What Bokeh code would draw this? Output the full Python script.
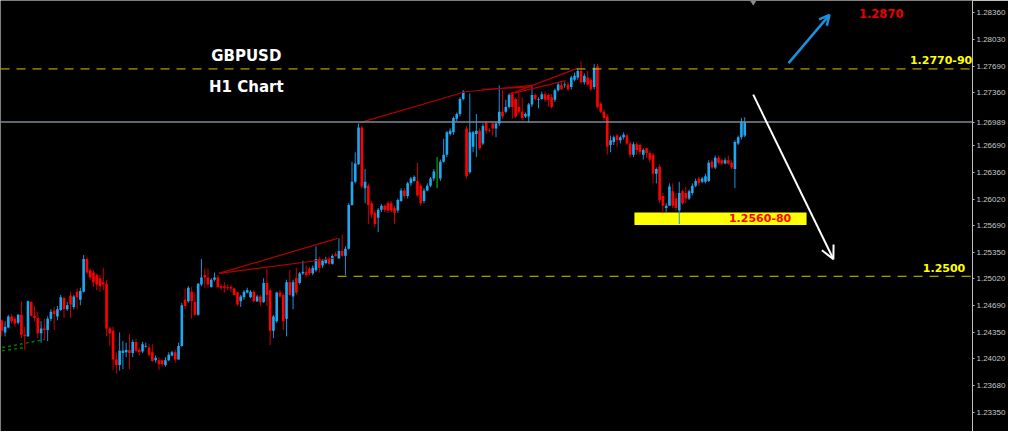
from bokeh.plotting import figure
from bokeh.models import (ColumnDataSource, Range1d, FixedTicker, PrintfTickFormatter,
                          Span, Label, Arrow, OpenHead)
from bokeh.embed import file_html
from bokeh.resources import INLINE

# ---------------- data (GBPUSD H1 candles, oldest -> newest) ----------------
opens = [
    1.2450, 1.2435, 1.2441, 1.2455, 1.2452, 1.2447, 1.2457, 1.2432, 1.2430, 1.2473,
    1.2456, 1.2453, 1.2434, 1.2440, 1.2438, 1.2452, 1.2462, 1.2455, 1.2463, 1.2478,
    1.2464, 1.2481, 1.2467, 1.2486, 1.2476, 1.2486, 1.2527, 1.2513, 1.2510, 1.2507,
    1.2503, 1.2498, 1.2496, 1.2440, 1.2437, 1.2401, 1.2394, 1.2409, 1.2410, 1.2413,
    1.2409, 1.2423, 1.2413, 1.2411, 1.2417, 1.2416, 1.2410, 1.2400, 1.2400, 1.2400,
    1.2394, 1.2400, 1.2406, 1.2410, 1.2401, 1.2418, 1.2476, 1.2474, 1.2486, 1.2473,
    1.2457, 1.2495, 1.2507, 1.2504, 1.2492, 1.2501, 1.2504, 1.2493, 1.2493, 1.2492,
    1.2492, 1.2490, 1.2485, 1.2474, 1.2479, 1.2485, 1.2479, 1.2486, 1.2474, 1.2480,
    1.2473, 1.2497, 1.2488, 1.2437, 1.2449, 1.2485, 1.2482, 1.2452, 1.2498, 1.2480,
    1.2503, 1.2497, 1.2509, 1.2511, 1.2515, 1.2509, 1.2513, 1.2527, 1.2519, 1.2522,
    1.2527, 1.2521, 1.2533, 1.2528, 1.2537, 1.2531, 1.2540, 1.2595, 1.2624, 1.2646,
    1.2692, 1.2616, 1.2619, 1.2597, 1.2585, 1.2579, 1.2589, 1.2594, 1.2597, 1.2597,
    1.2591, 1.2588, 1.2600, 1.2613, 1.2606, 1.2622, 1.2625, 1.2625, 1.2619, 1.2600,
    1.2613, 1.2619, 1.2628, 1.2636, 1.2628, 1.2649, 1.2658, 1.2684, 1.2686, 1.2703,
    1.2709, 1.2728, 1.2691, 1.2636, 1.2668, 1.2684, 1.2688, 1.2672, 1.2698, 1.2689,
    1.2697, 1.2691, 1.2697, 1.2712, 1.2712, 1.2718, 1.2734, 1.2728, 1.2718, 1.2712,
    1.2706, 1.2706, 1.2721, 1.2733, 1.2727, 1.2728, 1.2734, 1.2733, 1.2730, 1.2727,
    1.2739, 1.2745, 1.2745, 1.2746, 1.2743, 1.2752, 1.2755, 1.2763, 1.2749, 1.2755,
    1.2752, 1.2743, 1.2769, 1.2722, 1.2712, 1.2706, 1.2670, 1.2674, 1.2682, 1.2676,
    1.2680, 1.2682, 1.2672, 1.2658, 1.2671, 1.2670, 1.2658, 1.2666, 1.2660, 1.2658,
    1.2634, 1.2643, 1.2606, 1.2591, 1.2594, 1.2612, 1.2603, 1.2588, 1.2612, 1.2610,
    1.2603, 1.2610, 1.2619, 1.2628, 1.2624, 1.2624, 1.2625, 1.2649, 1.2642, 1.2654,
    1.2651, 1.2647, 1.2651, 1.2648, 1.2640, 1.2672, 1.2680, 1.2682,
]
highs = [
    1.2451, 1.2449, 1.2457, 1.2458, 1.2455, 1.2458, 1.2474, 1.2442, 1.2475, 1.2474,
    1.2468, 1.2461, 1.2449, 1.2452, 1.2455, 1.2464, 1.2467, 1.2468, 1.2482, 1.2480,
    1.2473, 1.2486, 1.2482, 1.2490, 1.2491, 1.2532, 1.2530, 1.2515, 1.2513, 1.2509,
    1.2507, 1.2516, 1.2501, 1.2442, 1.2442, 1.2410, 1.2435, 1.2424, 1.2422, 1.2433,
    1.2426, 1.2427, 1.2416, 1.2423, 1.2422, 1.2420, 1.2420, 1.2406, 1.2404, 1.2401,
    1.2404, 1.2410, 1.2412, 1.2413, 1.2422, 1.2472, 1.2490, 1.2493, 1.2492, 1.2485,
    1.2497, 1.2527, 1.2515, 1.2515, 1.2503, 1.2510, 1.2507, 1.2496, 1.2498, 1.2495,
    1.2495, 1.2491, 1.2486, 1.2482, 1.2488, 1.2491, 1.2488, 1.2488, 1.2482, 1.2482,
    1.2503, 1.2515, 1.2490, 1.2457, 1.2486, 1.2488, 1.2484, 1.2501, 1.2513, 1.2501,
    1.2516, 1.2511, 1.2525, 1.2519, 1.2517, 1.2519, 1.2543, 1.2530, 1.2527, 1.2530,
    1.2530, 1.2533, 1.2536, 1.2553, 1.2558, 1.2543, 1.2597, 1.2649, 1.2661, 1.2697,
    1.2694, 1.2640, 1.2622, 1.2600, 1.2588, 1.2591, 1.2596, 1.2595, 1.2600, 1.2600,
    1.2594, 1.2603, 1.2616, 1.2616, 1.2624, 1.2630, 1.2632, 1.2648, 1.2622, 1.2616,
    1.2622, 1.2630, 1.2640, 1.2655, 1.2652, 1.2678, 1.2688, 1.2691, 1.2706, 1.2711,
    1.2730, 1.2739, 1.2694, 1.2735, 1.2688, 1.2709, 1.2691, 1.2697, 1.2700, 1.2691,
    1.2699, 1.2699, 1.2745, 1.2739, 1.2727, 1.2735, 1.2737, 1.2730, 1.2737, 1.2730,
    1.2711, 1.2723, 1.2745, 1.2735, 1.2730, 1.2737, 1.2737, 1.2735, 1.2734, 1.2741,
    1.2749, 1.2751, 1.2749, 1.2749, 1.2757, 1.2761, 1.2766, 1.2775, 1.2760, 1.2763,
    1.2755, 1.2772, 1.2772, 1.2724, 1.2715, 1.2709, 1.2682, 1.2682, 1.2684, 1.2682,
    1.2686, 1.2684, 1.2675, 1.2674, 1.2674, 1.2672, 1.2666, 1.2666, 1.2663, 1.2660,
    1.2642, 1.2646, 1.2610, 1.2597, 1.2622, 1.2622, 1.2610, 1.2624, 1.2614, 1.2618,
    1.2614, 1.2622, 1.2628, 1.2630, 1.2630, 1.2634, 1.2651, 1.2652, 1.2657, 1.2657,
    1.2653, 1.2654, 1.2657, 1.2651, 1.2676, 1.2682, 1.2704, 1.2705,
]
lows = [
    1.2430, 1.2430, 1.2440, 1.2446, 1.2442, 1.2445, 1.2428, 1.2413, 1.2429, 1.2455,
    1.2449, 1.2428, 1.2422, 1.2426, 1.2424, 1.2449, 1.2438, 1.2450, 1.2462, 1.2453,
    1.2462, 1.2453, 1.2464, 1.2464, 1.2469, 1.2485, 1.2508, 1.2501, 1.2492, 1.2488,
    1.2486, 1.2488, 1.2430, 1.2418, 1.2388, 1.2383, 1.2387, 1.2389, 1.2404, 1.2389,
    1.2404, 1.2410, 1.2406, 1.2409, 1.2416, 1.2405, 1.2398, 1.2397, 1.2388, 1.2392,
    1.2392, 1.2399, 1.2405, 1.2397, 1.2401, 1.2417, 1.2464, 1.2472, 1.2452, 1.2456,
    1.2456, 1.2493, 1.2491, 1.2491, 1.2491, 1.2499, 1.2491, 1.2488, 1.2485, 1.2488,
    1.2486, 1.2481, 1.2468, 1.2467, 1.2476, 1.2484, 1.2478, 1.2473, 1.2473, 1.2468,
    1.2472, 1.2468, 1.2419, 1.2428, 1.2447, 1.2479, 1.2438, 1.2430, 1.2481, 1.2464,
    1.2482, 1.2495, 1.2507, 1.2504, 1.2507, 1.2507, 1.2511, 1.2510, 1.2516, 1.2521,
    1.2520, 1.2520, 1.2530, 1.2527, 1.2530, 1.2507, 1.2539, 1.2594, 1.2622, 1.2645,
    1.2616, 1.2597, 1.2571, 1.2579, 1.2567, 1.2561, 1.2586, 1.2586, 1.2585, 1.2586,
    1.2571, 1.2585, 1.2599, 1.2603, 1.2603, 1.2619, 1.2624, 1.2605, 1.2594, 1.2597,
    1.2612, 1.2617, 1.2625, 1.2616, 1.2625, 1.2648, 1.2655, 1.2682, 1.2683, 1.2700,
    1.2706, 1.2726, 1.2628, 1.2634, 1.2661, 1.2655, 1.2664, 1.2670, 1.2684, 1.2686,
    1.2682, 1.2680, 1.2694, 1.2703, 1.2710, 1.2716, 1.2703, 1.2704, 1.2709, 1.2701,
    1.2704, 1.2698, 1.2718, 1.2726, 1.2716, 1.2727, 1.2724, 1.2718, 1.2716, 1.2724,
    1.2737, 1.2739, 1.2742, 1.2738, 1.2740, 1.2750, 1.2752, 1.2747, 1.2746, 1.2745,
    1.2738, 1.2740, 1.2716, 1.2710, 1.2701, 1.2658, 1.2661, 1.2670, 1.2668, 1.2672,
    1.2677, 1.2670, 1.2654, 1.2655, 1.2658, 1.2658, 1.2652, 1.2654, 1.2648, 1.2622,
    1.2622, 1.2597, 1.2585, 1.2585, 1.2594, 1.2591, 1.2588, 1.2571, 1.2595, 1.2597,
    1.2601, 1.2607, 1.2617, 1.2619, 1.2622, 1.2622, 1.2624, 1.2640, 1.2640, 1.2646,
    1.2645, 1.2646, 1.2645, 1.2640, 1.2616, 1.2670, 1.2677, 1.2680,
]
closes = [
    1.2437, 1.2442, 1.2455, 1.2449, 1.2446, 1.2457, 1.2432, 1.2430, 1.2474, 1.2456,
    1.2453, 1.2434, 1.2440, 1.2438, 1.2452, 1.2461, 1.2458, 1.2464, 1.2479, 1.2464,
    1.2469, 1.2470, 1.2480, 1.2479, 1.2487, 1.2527, 1.2510, 1.2504, 1.2498, 1.2495,
    1.2493, 1.2495, 1.2440, 1.2434, 1.2401, 1.2394, 1.2412, 1.2412, 1.2413, 1.2409,
    1.2423, 1.2412, 1.2410, 1.2420, 1.2418, 1.2407, 1.2399, 1.2403, 1.2395, 1.2395,
    1.2400, 1.2407, 1.2410, 1.2401, 1.2418, 1.2469, 1.2468, 1.2491, 1.2474, 1.2457,
    1.2496, 1.2504, 1.2504, 1.2495, 1.2501, 1.2504, 1.2492, 1.2491, 1.2491, 1.2491,
    1.2490, 1.2482, 1.2470, 1.2480, 1.2486, 1.2488, 1.2486, 1.2474, 1.2480, 1.2473,
    1.2497, 1.2482, 1.2437, 1.2455, 1.2485, 1.2480, 1.2449, 1.2498, 1.2482, 1.2498,
    1.2485, 1.2509, 1.2511, 1.2507, 1.2509, 1.2516, 1.2527, 1.2516, 1.2525, 1.2527,
    1.2521, 1.2531, 1.2531, 1.2537, 1.2531, 1.2540, 1.2595, 1.2624, 1.2647, 1.2692,
    1.2618, 1.2624, 1.2595, 1.2583, 1.2571, 1.2589, 1.2594, 1.2589, 1.2588, 1.2588,
    1.2585, 1.2601, 1.2613, 1.2606, 1.2622, 1.2628, 1.2630, 1.2607, 1.2597, 1.2613,
    1.2619, 1.2628, 1.2637, 1.2636, 1.2649, 1.2658, 1.2686, 1.2688, 1.2704, 1.2709,
    1.2728, 1.2737, 1.2631, 1.2686, 1.2686, 1.2688, 1.2666, 1.2694, 1.2688, 1.2688,
    1.2691, 1.2697, 1.2712, 1.2706, 1.2718, 1.2733, 1.2718, 1.2706, 1.2712, 1.2704,
    1.2709, 1.2721, 1.2733, 1.2728, 1.2728, 1.2734, 1.2727, 1.2727, 1.2718, 1.2739,
    1.2746, 1.2740, 1.2746, 1.2740, 1.2755, 1.2757, 1.2763, 1.2749, 1.2757, 1.2746,
    1.2740, 1.2767, 1.2718, 1.2712, 1.2704, 1.2668, 1.2676, 1.2680, 1.2676, 1.2680,
    1.2683, 1.2672, 1.2658, 1.2671, 1.2664, 1.2661, 1.2664, 1.2660, 1.2652, 1.2634,
    1.2640, 1.2601, 1.2594, 1.2594, 1.2618, 1.2594, 1.2591, 1.2610, 1.2597, 1.2603,
    1.2612, 1.2619, 1.2625, 1.2622, 1.2628, 1.2631, 1.2648, 1.2642, 1.2654, 1.2648,
    1.2647, 1.2651, 1.2647, 1.2642, 1.2674, 1.2680, 1.2700, 1.2699,
]

axis_ticks = [1.28360, 1.28030, 1.27690, 1.27360, 1.26690, 1.26360, 1.26020,
              1.25690, 1.25350, 1.25020, 1.24690, 1.24350, 1.24020, 1.23680, 1.23350]
current_price = 1.26989
resistance_level = 1.27656      # "1.2770-90" dashed line
support_level = 1.25054         # "1.2500" dashed line
support_from_bar = 102.6
zone_bars = (193.3, 245.9)      # yellow "1.2560-80" zone
zone_prices = (1.25696, 1.25853)

# hand-drawn trend lines (bar index, price)
trend_x0 = [66.3, 66.3, 109.2, 141.7, 146.8, 155.2, 155.2]
trend_y0 = [1.2509, 1.2509, 1.2698, 1.2737, 1.2740, 1.2734, 1.2734]
trend_x1 = [102.6, 101.7, 141.7, 162.1, 162.1, 175.6, 172.3]
trend_y1 = [1.2553, 1.2528, 1.2737, 1.2745, 1.2743, 1.2766, 1.2751]

# remains of an indicator (dashed green) at bottom left
ind_x0 = [0.1, 0.1]
ind_y0 = [1.24159, 1.24119]
ind_x1 = [13.1, 7.1]
ind_y1 = [1.24260, 1.24159]

# ---------------- figure ----------------
BLUE_BODY, BLUE_WICK = "#1ea8f0", "#1a92dc"
RED_BODY, RED_WICK = "#ff0000", "#cc0000"
DOJI = "#00d000"

idx = list(range(len(closes)))
body_col, wick_col, tops, bots = [], [], [], []
for o, c in zip(opens, closes):
    if c > o:
        body_col.append(BLUE_BODY); wick_col.append(BLUE_WICK)
    elif c < o:
        body_col.append(RED_BODY); wick_col.append(RED_WICK)
    else:
        body_col.append(DOJI); wick_col.append(DOJI)
    tops.append(max(o, c)); bots.append(min(o, c))

src = ColumnDataSource(dict(x=idx, high=highs, low=lows, top=tops, bottom=bots,
                            body=body_col, wick=wick_col))

W, H = 1008, 431
p = figure(width=W, height=H, output_backend="svg", toolbar_location=None,
           x_range=Range1d(-0.4, 296.6), y_range=Range1d(1.23106, 1.28515),
           x_axis_location=None, y_axis_location="right",
           background_fill_color="black", border_fill_color="black",
           min_border_left=0, min_border_top=0, min_border_bottom=0, min_border_right=0)
p.grid.visible = False
p.outline_line_color = None

ax = p.yaxis[0]
ax.ticker = FixedTicker(ticks=axis_ticks + [current_price])
ax.formatter = PrintfTickFormatter(format="%.5f")
ax.major_label_overrides = {current_price: "1.26989"}
ax.axis_line_color = "#c0c0c0"
ax.major_tick_line_color = "#c0c0c0"
ax.major_tick_out = 2
ax.major_tick_in = 0
ax.minor_tick_line_color = None
ax.major_label_standoff = 2
ax.major_label_text_color = "#c8c8c8"
ax.major_label_text_font = "Liberation Sans"
ax.major_label_text_font_size = "8px"

# zone box (under candles)
p.quad(left=[zone_bars[0]], right=[zone_bars[1]], bottom=[zone_prices[0]], top=[zone_prices[1]],
       fill_color="#ffff00", line_color=None)

# horizontal levels
p.add_layout(Span(location=resistance_level, dimension="width", line_color="#d8c800",
                  line_width=1, line_dash="9 7"))
p.segment(x0=[support_from_bar], y0=[support_level], x1=[300], y1=[support_level],
          line_color="#d8c800", line_width=1, line_dash="9 7")
p.add_layout(Span(location=current_price, dimension="width", line_color="#7d8a99",
                  line_width=1.5))

# candles
p.segment(x0="x", y0="low", x1="x", y1="high", line_color="wick", line_width=1, source=src)
p.vbar(x="x", width=0.8, top="top", bottom="bottom", fill_color="body", line_color=None,
       source=src)

# trend lines and indicator
p.segment(x0=trend_x0, y0=trend_y0, x1=trend_x1, y1=trend_y1, line_color="#b40000",
          line_width=1.2)
p.segment(x0=ind_x0, y0=ind_y0, x1=ind_x1, y1=ind_y1, line_color="#007a00",
          line_width=1.5, line_dash="3 3")

# small grey marker at top
p.scatter(x=[229.6], y=[1.28527], marker="diamond", size=12, fill_color="#8c8c8c",
          line_color=None)

# arrows
p.add_layout(Arrow(end=OpenHead(line_color="#1e8fdc", line_width=2.5, size=10),
                   x_start=240.4, y_start=1.27729, x_end=252.9, y_end=1.28334,
                   line_color="#1e8fdc", line_width=2.5))
p.add_layout(Arrow(end=OpenHead(line_color="white", line_width=2, size=13),
                   x_start=229.6, y_start=1.27333, x_end=254.1, y_end=1.25269,
                   line_color="white", line_width=2))

# texts
def add_label(x, y, text, color, size):
    p.add_layout(Label(x=x, y=y, text=text, text_color=color, text_font="DejaVu Sans",
                       text_font_style="bold", text_font_size=size,
                       text_align="center", text_baseline="middle"))

add_label(74.7, 1.27813, "GBPUSD", "white", "15px")
add_label(74.7, 1.27426, "H1 Chart", "white", "15px")
add_label(268.7, 1.28358, "1.2870", "#e80000", "11.5px")
add_label(287.0, 1.27765, "1.2770-90", "#ffff00", "11px")
add_label(287.9, 1.25163, "1.2500", "#ffff00", "11px")
add_label(231.7, 1.25780, "1.2560-80", "#ff0000", "11px")

open("out.html", "w").write(file_html(p, INLINE))
